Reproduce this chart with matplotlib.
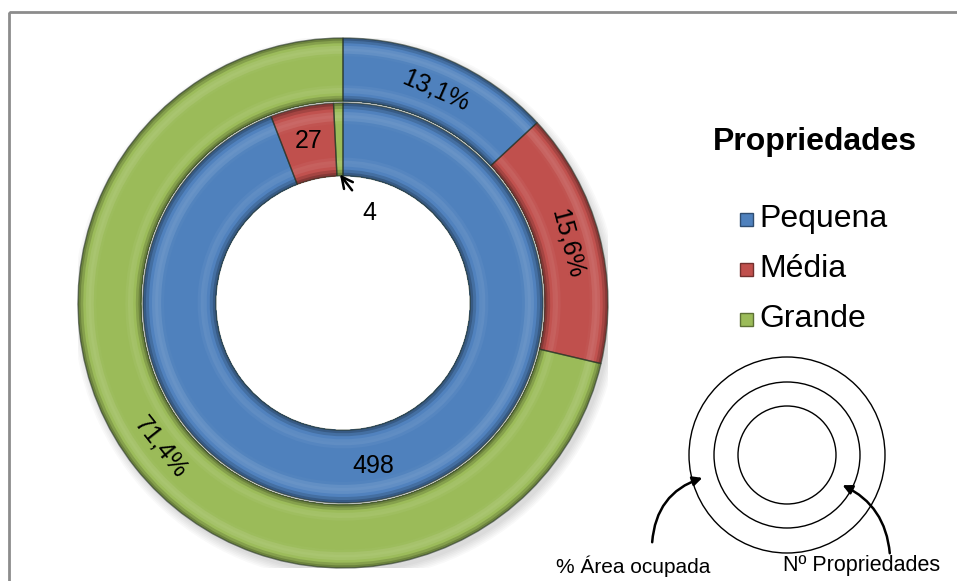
import numpy as np
import matplotlib
matplotlib.use("Agg")
import matplotlib.pyplot as plt
from matplotlib.patches import FancyArrowPatch, Circle, Rectangle
from matplotlib.colors import to_rgb

plt.rcParams['font.family'] = ['Liberation Sans', 'DejaVu Sans']

categories = ["Pequena", "Média", "Grande"]
area_pct = [13.1, 15.6, 71.4]          # % área ocupada (anel externo)
n_props = [498, 27, 4]                 # nº de propriedades (anel interno)
area_labels = ["13,1%", "15,6%", "71,4%"]
colors = ["#4F81BD", "#C0504D", "#9BBB59"]

W, H = 957, 581
fig = plt.figure(figsize=(W / 100, H / 100), dpi=100)

# donut axes: centre (343, 303) px, radius 265 px
cx, cy, R = 343, 303, 265
ax = fig.add_axes([(cx - R) / W, (H - cy - R) / H, 2 * R / W, 2 * R / H])


def shade(c, f):
    r = np.array(to_rgb(c))
    if f >= 1:
        return tuple(r + (1 - r) * (f - 1))
    return tuple(r * f)


def profile(t):
    # brightness across the ring width (0 = inner edge, 1 = outer edge)
    if t < 0.1:
        return 0.62 + 0.38 * t / 0.1
    if t < 0.25:
        return 1.0 + 0.1 * np.sin((t - 0.1) / 0.15 * np.pi)
    if t > 0.9:
        return 1.0 - 0.38 * (t - 0.9) / 0.1
    if t > 0.72:
        return 1.0 + 0.14 * np.sin((t - 0.72) / 0.18 * np.pi)
    return 1.0


def bevel_ring(values, r_in, r_out, nb=24):
    # stacked wedges, outermost first, each reaching down to r_in,
    # so the shading bands have no seams
    edges = np.linspace(r_in, r_out, nb + 1)
    for i in range(nb - 1, -1, -1):
        t = (i + 0.5) / nb
        cols = [shade(c, profile(t)) for c in colors]
        ax.pie(values, radius=edges[i + 1], colors=cols, startangle=90,
               counterclock=False,
               wedgeprops=dict(width=edges[i + 1] - r_in,
                               edgecolor='none', linewidth=0))
    # dark seams between wedges
    ax.pie(values, radius=r_out, colors=['none'] * 3, startangle=90,
           counterclock=False,
           wedgeprops=dict(width=r_out - r_in, edgecolor=(0.15, 0.2, 0.15, 0.6),
                           linewidth=1.0, fill=False))


# soft shadow behind the outer ring
for k in range(6):
    ax.add_patch(Circle((0.012, -0.018), 1.0 + 0.006 * k, color='black',
                        alpha=0.025, zorder=0, lw=0))
ax.add_patch(Circle((0, 0), 1.0, color='white', zorder=0.5, lw=0))

bevel_ring(area_pct, 0.762, 1.0)
bevel_ring(n_props, 0.48, 0.755)

ax.set_xlim(-1, 1)
ax.set_ylim(-1, 1)
ax.set_aspect('equal')
ax.axis('off')

# outer ring labels, following the ring
tot = sum(area_pct)
cum = 0
for v, lab in zip(area_pct, area_labels):
    mid = 90 - (cum + v / 2) / tot * 360
    cum += v
    rad = np.deg2rad(mid)
    rot = mid - 90
    if rot < -90:
        rot += 180
    ax.text(0.875 * np.cos(rad), 0.875 * np.sin(rad), lab, rotation=rot,
            ha='center', va='center', fontsize=18, rotation_mode='anchor')

# inner ring labels
tot = sum(n_props)
cum = 0
mids = []
for v in n_props:
    mids.append(90 - (cum + v / 2) / tot * 360)
    cum += v
for v, mid in zip(n_props[:2], mids[:2]):
    rad = np.deg2rad(mid)
    ax.text(0.625 * np.cos(rad), 0.625 * np.sin(rad), str(v),
            ha='center', va='center', fontsize=18)
rad = np.deg2rad(mids[2])
ax.annotate(str(n_props[2]), xy=(0.485 * np.cos(rad), 0.485 * np.sin(rad)),
            xytext=(0.1, 0.34), ha='center', va='center', fontsize=18,
            arrowprops=dict(arrowstyle='->', color='black', lw=1.8,
                            shrinkA=9, shrinkB=0, mutation_scale=20))

# frame, in pixel coordinates
ov = fig.add_axes([0, 0, 1, 1], zorder=-1)
ov.set_xlim(0, W)
ov.set_ylim(H, 0)
ov.axis('off')
ov.add_patch(Rectangle((8.5, 11.5), 1000, 700, fill=False, ec='#8c8c8c', lw=2))

# legend and ring key, in pixel coordinates
ov2 = fig.add_axes([0, 0, 1, 1], zorder=3)
ov2.set_xlim(0, W)
ov2.set_ylim(H, 0)
ov2.axis('off')
ov2.patch.set_alpha(0)

ov2.text(815, 142, "Propriedades", ha='center', va='center', fontsize=23,
         fontweight='bold')
for i, (cat, c) in enumerate(zip(categories, colors)):
    y = 219 + 50 * i
    ov2.add_patch(Rectangle((740, y - 6), 13, 13, fc=c, ec=shade(c, 0.6), lw=1))
    ov2.text(759, y, cat, ha='left', va='center', fontsize=23)

kx, ky = 787, 455
for r in (98, 73, 49):
    ov2.add_patch(Circle((kx, ky), r, fill=False, ec='black', lw=1))
ov2.text(633, 566, "% Área ocupada", ha='center', va='center', fontsize=15)
ov2.text(862, 566, "Nº Propriedades", ha='center', va='center', fontsize=15.5)
ov2.add_patch(FancyArrowPatch((652, 545), (705, 477),
                              connectionstyle="arc3,rad=-0.35",
                              arrowstyle='-|>', mutation_scale=14, lw=1.8,
                              color='black'))
ov2.add_patch(FancyArrowPatch((890, 556), (840, 484),
                              connectionstyle="arc3,rad=0.3",
                              arrowstyle='-|>', mutation_scale=14, lw=1.8,
                              color='black'))

fig.savefig("out.png", dpi=100, facecolor='white')
